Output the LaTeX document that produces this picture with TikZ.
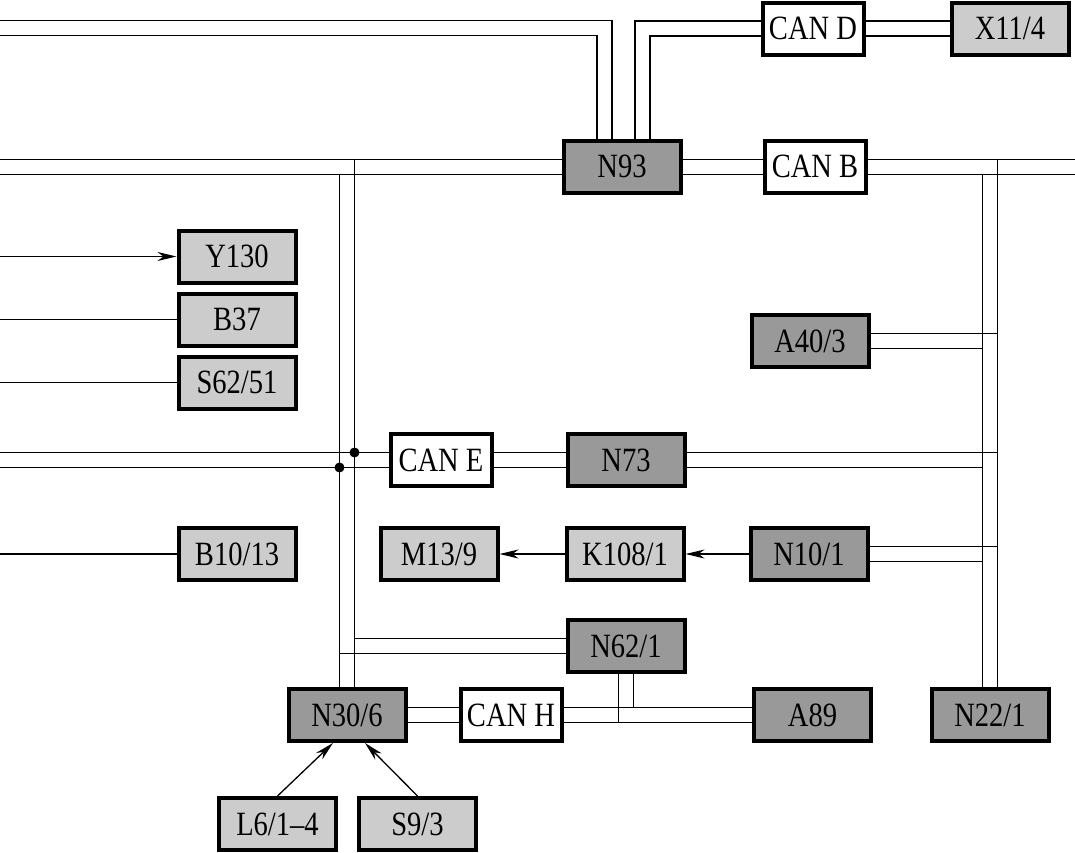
\documentclass[tikz,border=0pt]{standalone}
\usepackage{fontspec}
\setmainfont{Liberation Serif}[FakeStretch=0.84]
\usetikzlibrary{arrows.meta,positioning}
\definecolor{ecugray}{gray}{0.6}
\definecolor{partgray}{gray}{0.8}

\begin{document}
\begin{tikzpicture}[x=1pt,y=-1pt,
    box/.style={draw, line width=4pt, minimum height=52pt, inner sep=2pt,
      text height=23pt, text depth=1pt, font=\fontsize{34}{40}\selectfont},
    ecu/.style={box, fill=ecugray, minimum width=117pt},
    part/.style={box, fill=partgray, minimum width=117pt},
    gate/.style={box, fill=white, minimum width=101pt},
    wire/.style={line width=1.3pt},
    sig/.style={wire, -{Stealth[length=19pt,width=9pt,inset=6pt]}},
    joint/.style={circle, fill, inner sep=0pt, minimum size=10pt}]
		\useasboundingbox (0,0) rectangle (1075,853);
		\coordinate (ledge) at (0,0);
		\coordinate (redge) at (1075,0);
		% top row
		\node[ecu] (n93) at (622,167) {N93};
		\node[gate, right=80pt of n93] (canb) {CAN B};
		\node[gate] (cand) at (813,29) {CAN D};
		\node[part, right=84pt of cand] (x11) {X11/4};
		% left column
		\node[part] (y130) at (237,256.5) {Y130};
		\node[part, below=7pt of y130] (b37) {B37};
		\node[part, below=7pt of b37] (s62) {S62/51};
		\node[part] (b10) at (237,554) {B10/13};
		% middle
		\node[gate] (cane) at (441,460) {CAN E};
		\node[ecu, right=72pt of cane] (n73) {N73};
		\node[ecu] (a40) at (810,341) {A40/3};
		\node[part, right=81pt of b10] (m13) {M13/9};
		\node[part, right=65pt of m13] (k108) {K108/1};
		\node[ecu, right=63pt of k108] (n10) {N10/1};
		\node[ecu] (n62) at (626,646) {N62/1};
		% bottom row
		\node[ecu] (n30) at (347,715) {N30/6};
		\node[gate, right=51pt of n30] (canh) {CAN H};
		\node[ecu] (a89) at (812.5,715) {A89};
		\node[ecu] (n22) at (990,715) {N22/1};
		\node[part] (l6) at (277.5,824) {L6/1–4};
		\node[part, right=19pt of l6] (s9) {S9/3};
		% CAN D bus
		\coordinate (wtop) at (0,28);
		\draw[wire] ([yshift=7.5pt]wtop) -| ([xshift=-10pt]n93.north);
		\draw[wire] ([yshift=-7.5pt]wtop) -| ([xshift=-25pt]n93.north);
		\draw[wire] ([xshift=13pt]n93.north) |- ([yshift=8pt]cand.west);
		\draw[wire] ([xshift=28pt]n93.north) |- ([yshift=-7pt]cand.west);
		\draw[wire] ([yshift=8pt]cand.east) -- ([yshift=8pt]x11.west);
		\draw[wire] ([yshift=-7pt]cand.east) -- ([yshift=-7pt]x11.west);
		% N93 / CAN B bus
		\draw[wire] ([yshift=7.5pt]n93.west -| ledge) -- ([yshift=7.5pt]n93.west);
		\draw[wire] ([yshift=-7.5pt]n93.west -| ledge) -- ([yshift=-7.5pt]n93.west);
		\draw[wire] ([yshift=7.5pt]n93.east) -- ([yshift=7.5pt]canb.west);
		\draw[wire] ([yshift=-7.5pt]n93.east) -- ([yshift=-7.5pt]canb.west);
		\draw[wire] ([yshift=7.5pt]canb.east) -- ([yshift=7.5pt]canb.east -| redge);
		\draw[wire] ([yshift=-7.5pt]canb.east) -- ([yshift=-7.5pt]canb.east -| redge);
		\draw[wire] ([xshift=7.5pt]n30.north) |- ([yshift=7.5pt]n93.west);
		\draw[wire] ([xshift=-7.5pt]n30.north) |- ([yshift=-7.5pt]n93.west);
		\draw[wire] ([xshift=7.5pt]n22.north) |- ([yshift=7.5pt]canb.east);
		\draw[wire] ([xshift=-7.5pt]n22.north) |- ([yshift=-7.5pt]canb.east);
		% taps on the right
		\foreach \m in {a40,n73,n10}{
			\draw[wire] ([yshift=7.5pt]\m.east) -| ([xshift=7.5pt]n22.north);
			\draw[wire] ([yshift=-7.5pt]\m.east) -| ([xshift=-7.5pt]n22.north);
		}
		% CAN E bus
		\draw[wire] ([yshift=7.5pt]cane.west -| ledge) -- ([yshift=7.5pt]cane.west);
		\draw[wire] ([yshift=-7.5pt]cane.west -| ledge) -- ([yshift=-7.5pt]cane.west);
		\draw[wire] ([yshift=7.5pt]cane.east) -- ([yshift=7.5pt]n73.west);
		\draw[wire] ([yshift=-7.5pt]cane.east) -- ([yshift=-7.5pt]n73.west);
		\node[joint] (j1) at (354.5,452.5) {};
		\node[joint] (j2) at (339.5,467.5) {};
		% N62/1 and CAN H bus
		\draw[wire] ([yshift=7.5pt]n62.west) -| ([xshift=7.5pt]n30.north);
		\draw[wire] ([yshift=-7.5pt]n62.west) -| ([xshift=-7.5pt]n30.north);
		\draw[wire] ([yshift=7.5pt]n30.east) -- ([yshift=7.5pt]canh.west);
		\draw[wire] ([yshift=-7.5pt]n30.east) -- ([yshift=-7.5pt]canh.west);
		\draw[wire] ([yshift=7.5pt]canh.east) -- ([yshift=7.5pt]a89.west);
		\draw[wire] ([yshift=-7.5pt]canh.east) -- ([yshift=-7.5pt]a89.west);
		\draw[wire] ([xshift=7.5pt]n62.south) |- ([yshift=7.5pt]a89.west);
		\draw[wire] ([xshift=-7.5pt]n62.south) |- ([yshift=-7.5pt]a89.west);
		% single lines
		\draw[sig] (y130.west -| ledge) -- (y130.west);
		\draw[wire] (b37.west -| ledge) -- (b37.west);
		\draw[wire] (s62.west -| ledge) -- (s62.west);
		\draw[wire] (b10.west -| ledge) -- (b10.west);
		\draw[sig] (k108) -- (m13);
		\draw[sig] (n10) -- (k108);
		\draw[sig] (l6.north) -- ([xshift=-14pt]n30.south);
		\draw[sig] (s9.north) -- ([xshift=18pt]n30.south);
	\end{tikzpicture}
\end{document}
